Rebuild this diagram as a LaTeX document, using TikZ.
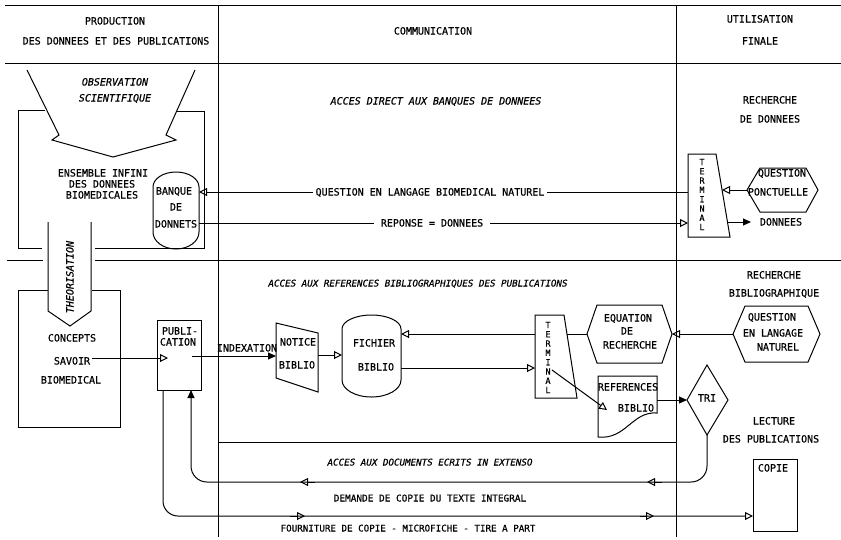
\documentclass[tikz,border=0pt]{standalone}
\usepackage{fontspec}
\setmonofont{DejaVu Sans Mono}[FakeBold=0.6]
\usetikzlibrary{arrows.meta}
\begin{document}
\begin{tikzpicture}[x=1pt,y=-1pt,line width=1pt,
  txt/.style={inner sep=0pt,text height=7pt,text depth=0pt,font=\ttfamily\fontsize{10}{11}\selectfont},
  itxt/.style={txt,font=\ttfamily\itshape\fontsize{10}{11}\selectfont},
  sitxt/.style={txt,font=\ttfamily\itshape\fontsize{9.2}{11}\selectfont},
  stxt/.style={txt,font=\ttfamily\fontsize{9.4}{11}\selectfont},
  lbl/.style={txt,fill=white,inner xsep=3pt,inner ysep=2pt},
  oarr/.style={-{Triangle[open,length=8pt,width=8pt]}},
  farr/.style={-{Triangle[length=8pt,width=7pt]}},
  vt/.style={inner sep=0pt,align=center,font=\ttfamily\fontsize{8.5}{9.3}\selectfont},
  boxnode/.style={draw,inner sep=0pt}
]
\useasboundingbox (0,0) rectangle (841,539);
% frame
\draw (5,5) -- (841,5);
\draw (5,63) -- (841,63);
\draw (218,5) -- (218,537);
\draw (676,5) -- (676,537);
\draw (7,260) -- (43,260);
\draw (95,260) -- (841,260);
\draw (218,442) -- (676,442);
% headers
\node[txt] (h1) at (115,21) {PRODUCTION};
\node[txt] (h2) at (116,41) {DES DONNEES ET DES PUBLICATIONS};
\node[txt] (h3) at (433,31) {COMMUNICATION};
\node[txt] (h4) at (760,19) {UTILISATION};
\node[txt] (h5) at (760,41) {FINALE};
% top labels
\node[itxt] (obs1) at (115,82) {OBSERVATION};
\node[itxt] (obs2) at (115,98) {SCIENTIFIQUE};
\node[itxt] (acc1) at (436,101) {ACCES DIRECT AUX BANQUES DE DONNEES};
\node[txt] (rd1) at (770,100) {RECHERCHE};
\node[txt] (rd2) at (770,119) {DE DONNEES};
% observation arrow
\draw (27,70) -- (59,135) -- (52,140) -- (113,157) -- (176,140) -- (166,135) -- (195,70);
% data box
\draw (45,110) -- (18,110) -- (18,248) -- (42,248);
\draw (95,248) -- (204,248) -- (204,111) -- (177,111);
\node[txt] (ens1) at (103,173) {ENSEMBLE INFINI};
\node[txt] (ens2) at (102,184) {DES DONNEES};
\node[txt] (ens3) at (102,195) {BIOMEDICALES};
% banque
\draw (153,187) arc[start angle=180,end angle=360,x radius=23,y radius=15] -- (199,232) arc[start angle=0,end angle=180,x radius=23,y radius=17] -- cycle;
\node[txt] (bq1) at (174,191) {BANQUE};
\node[txt] (bq2) at (176,207) {DE};
\node[txt] (bq3) at (176,224) {DONNETS};
\coordinate (bqQ) at (199,192);
\coordinate (bqR) at (199,223);
% terminal 1
\draw (688,154) -- (716,154) -- (730,237) -- (688,237) -- cycle;
\node[vt] (t1) at (702,194.5) {T\\E\\R\\M\\I\\N\\A\\L};
\coordinate (t1Q) at (688,192);
\coordinate (t1R) at (688,223);
\coordinate (t1P) at (722,190);
\coordinate (t1D) at (727.5,222);
\draw[oarr] (t1Q) -- (bqQ);
\node[lbl] (lq) at (430,192) {QUESTION EN LANGAGE BIOMEDICAL NATUREL};
\draw[oarr] (bqR) -- (t1R);
\node[lbl,inner xsep=7pt] (lr) at (432,223) {REPONSE = DONNEES};
% question ponctuelle
\draw (747,190) -- (760,168) -- (806,168) -- (818,190) -- (806,212) -- (760,212) -- cycle;
\node[txt] (qp1) at (782,173) {QUESTION};
\node[txt] (qp2) at (778,192) {PONCTUELLE};
\coordinate (qpW) at (747,190);
\draw[oarr] (qpW) -- (t1P);
\coordinate (dn) at (751,222);
\draw[farr] (t1D) -- (dn);
\node[txt] (dnt) at (781,222) {DONNEES};
% lower labels
\node[sitxt] (acc2) at (418,283) {ACCES AUX REFERENCES BIBLIOGRAPHIQUES DES PUBLICATIONS};
\node[txt] (rb1) at (774,275) {RECHERCHE};
\node[txt] (rb2) at (774,293) {BIBLIOGRAPHIQUE};
% theorisation
\draw (48,222) -- (48,311) -- (70,326) -- (91,311) -- (91,222);
\node[itxt,rotate=90] (theo) at (70,277) {THEORISATION};
% concepts box
\draw (48,290) -- (18,290) -- (18,427) -- (120,427) -- (120,290) -- (92,290);
\node[txt] (c1) at (72,338) {CONCEPTS};
\node[txt] (c2) at (72,361) {SAVOIR};
\node[txt] (c3) at (71,380) {BIOMEDICAL};
\coordinate (sv) at (92,358);
% publication
\node[boxnode,minimum width=44pt,minimum height=70pt] (pub) at (179,355) {};
\node[txt] (p1) at (180,331) {PUBLI-};
\node[txt] (p2) at (178,342) {CATION};
\coordinate (pubIn) at (168,358);
\draw[oarr] (sv) -- (pubIn);
\coordinate (pubOut) at (192,356);
\coordinate (ntW) at (276,356);
\draw[farr] (pubOut) -- (ntW);
\node[txt] (idx) at (247,348) {INDEXATION};
% notice
\draw (276,323) -- (318,333) -- (318,392) -- (276,378) -- cycle;
\node[txt] (nt1) at (298,342) {NOTICE};
\node[txt] (nt2) at (297,365) {BIBLIO};
\coordinate (ntE) at (318,355);
\coordinate (fiW) at (342,355);
\draw[oarr] (ntE) -- (fiW);
% fichier
\draw (342,329) arc[start angle=180,end angle=360,x radius=29.5,y radius=14] -- (401,380) arc[start angle=0,end angle=180,x radius=29.5,y radius=17] -- cycle;
\node[txt] (fi1) at (374,343) {FICHIER};
\node[txt] (fi2) at (376,367) {BIBLIO};
\coordinate (fiE1) at (401,334);
\coordinate (fiE2) at (401,368);
% terminal 2
\draw (535,315) -- (564,315) -- (577,398) -- (535,398) -- cycle;
\node[vt] (t2) at (548,357.5) {T\\E\\R\\M\\I\\N\\A\\L};
\coordinate (t2W1) at (535,334);
\coordinate (t2E1) at (567,334);
\coordinate (t2W2) at (535,368);
\coordinate (t2C) at (552,370);
% equation
\draw (587,334) -- (597,305) -- (662,305) -- (672,334) -- (662,363) -- (597,363) -- cycle;
\node[txt] (eq1) at (628,318) {EQUATION};
\node[txt] (eq2) at (627,331) {DE};
\node[txt] (eq3) at (630,345) {RECHERCHE};
\coordinate (eqW) at (587,334);
\coordinate (eqE) at (672,334);
\draw[oarr] (t2W1) -- (fiE1);
\draw (eqW) -- (t2E1);
\draw[oarr] (fiE2) -- (t2W2);
% question langage naturel
\draw (733,334) -- (745,306) -- (808,306) -- (820,334) -- (808,362) -- (745,362) -- cycle;
\node[txt] (qn1) at (772,317) {QUESTION};
\node[txt] (qn2) at (773,333) {EN LANGAGE};
\node[txt] (qn3) at (778,347) {NATUREL};
\coordinate (qW) at (733,334);
\draw[oarr] (qW) -- (eqE);
% references
\coordinate (refA) at (607,410);
\draw[oarr] (t2C) -- (refA);
\draw (598,376) -- (657,376) -- (657,413) .. controls (632,411) and (626,440) .. (598,437) -- cycle;
\node[txt] (rf1) at (628,387) {REFERENCES};
\node[txt] (rf2) at (636,408) {BIBLIO};
\coordinate (refE) at (657,400);
\coordinate (triW) at (687,400);
\draw[farr] (refE) -- (triW);
% tri
\draw (687,400) -- (707,365) -- (728,400) -- (707,435) -- cycle;
\node[txt] (tri) at (707,398) {TRI};
\coordinate (triS) at (707,435);
% lecture
\node[txt] (lc1) at (774,421) {LECTURE};
\node[txt] (lc2) at (771,439) {DES PUBLICATIONS};
% copie
\node[boxnode,minimum width=44pt,minimum height=72pt] (copie) at (775,495) {};
\node[txt] (cp) at (773,468) {COPIE};
% demande
\coordinate (pubS1) at (191,390);
\draw[farr,rounded corners=16pt] (triS) -- (707,482) -- (191,482) -- (pubS1);
\draw[oarr] (662,482) -- (647,482);
\draw[oarr] (315,482) -- (300,482);
% fourniture
\coordinate (pubS2) at (163,390);
\coordinate (cpW) at (753,516);
\draw[oarr,rounded corners=15pt] (pubS2) -- (163,516) -- (cpW);
\draw[oarr] (290,516) -- (305,516);
\draw[oarr] (640,516) -- (654,516);
% bottom labels
\node[sitxt] (l1) at (430,462) {ACCES AUX DOCUMENTS ECRITS IN EXTENSO};
\node[stxt] (l2) at (430,498) {DEMANDE DE COPIE DU TEXTE INTEGRAL};
\node[sitxt,font=\ttfamily\fontsize{9.2}{11}\selectfont] (l3) at (408,528) {FOURNITURE DE COPIE - MICROFICHE - TIRE A PART};
\end{tikzpicture}
\end{document}
